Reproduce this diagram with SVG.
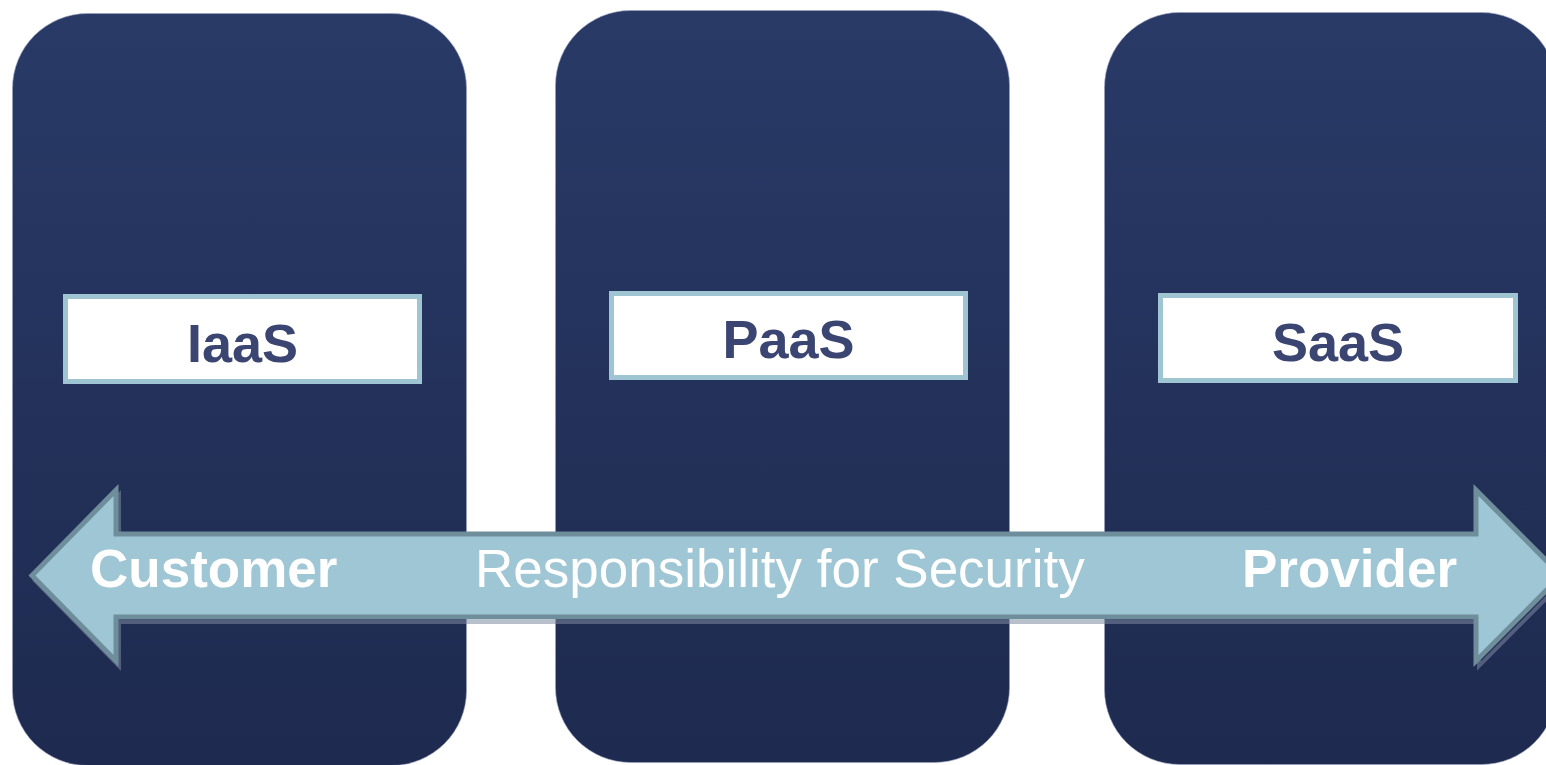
<svg xmlns="http://www.w3.org/2000/svg" width="1546" height="765" viewBox="0 0 1546 765">
  <defs>
    <linearGradient id="colFill" x1="0" y1="0" x2="0" y2="1">
      <stop offset="0" stop-color="#293a67"/>
      <stop offset="1" stop-color="#1e2a4f"/>
    </linearGradient>
    <style>
      .col { fill: url(#colFill); stroke: #9aa2bd; stroke-width: 1; stroke-opacity: 0.6; }
      .tag { fill: #ffffff; stroke: #9fc5d3; stroke-width: 5; }
      .tagText { font-family: "Liberation Sans", Arial, sans-serif; font-weight: bold; font-size: 54px; fill: #3b4571; text-anchor: middle; }
      .arrowText { font-family: "Liberation Sans", Arial, sans-serif; font-size: 53px; fill: #ffffff; }
      .bold { font-weight: bold; }
      .arrowBody { fill: #9fc6d4; stroke: #6f8e9c; stroke-width: 5; stroke-linejoin: miter; }
      .arrowShadow { fill: none; stroke: #7d889e; stroke-width: 4; stroke-opacity: 0.55; }
    </style>
  </defs>

  <!-- service model columns -->
  <g id="iaas">
    <rect class="col" x="12.5" y="13.5" width="454" height="752" rx="75" ry="75"/>
    <rect class="tag" x="65.5" y="296.5" width="354" height="85"/>
    <text class="tagText" x="242.5" y="362">IaaS</text>
  </g>
  <g id="paas">
    <rect class="col" x="555.5" y="10.5" width="454" height="752" rx="75" ry="75"/>
    <rect class="tag" x="611.5" y="293.5" width="354" height="84"/>
    <text class="tagText" x="788.5" y="358">PaaS</text>
  </g>
  <g id="saas">
    <rect class="col" x="1104.5" y="12.5" width="452" height="752" rx="75" ry="75"/>
    <rect class="tag" x="1160.5" y="295.5" width="355" height="85"/>
    <text class="tagText" x="1338" y="361">SaaS</text>
  </g>

  <!-- double-headed responsibility arrow -->
  <g id="connectors">
    <polygon class="arrowShadow" transform="translate(3,5)" points="32,575.5 116,490 116,534 1476,534 1476,490 1561,575.5 1476,661 1476,617 116,617 116,661"/>
    <polygon class="arrowBody" points="32,575.5 116,490 116,534 1476,534 1476,490 1561,575.5 1476,661 1476,617 116,617 116,661"/>
    <text class="arrowText bold" x="90" y="587">Customer</text>
    <text class="arrowText" x="475" y="587">Responsibility for Security</text>
    <text class="arrowText bold" x="1242" y="587">Provider</text>
  </g>
</svg>
